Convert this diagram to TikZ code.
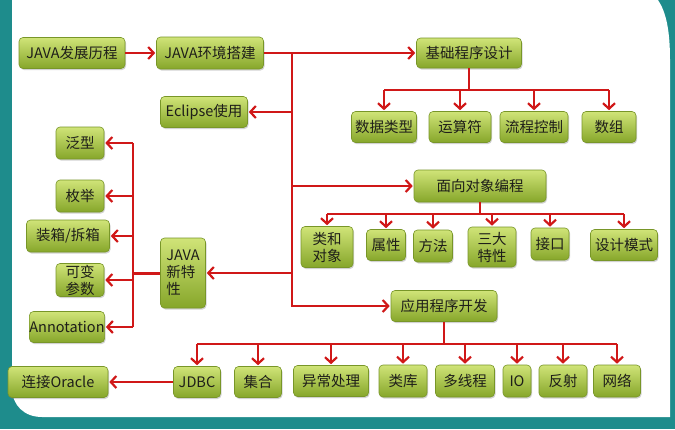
\documentclass[tikz,border=0pt]{standalone}
\usepackage{fontspec}
\setmainfont{Noto Sans CJK SC}
\usetikzlibrary{arrows.meta,shadows}

\definecolor{rahmen}{RGB}{30,140,140}
\definecolor{linienrot}{RGB}{208,24,24}
\definecolor{boxhell}{RGB}{208,228,120}
\definecolor{boxdunkel}{RGB}{134,166,42}
\definecolor{boxrand}{RGB}{120,150,40}
\definecolor{schrift}{RGB}{30,30,25}

\begin{document}
\begin{tikzpicture}[x=1pt,y=-1pt,
	>={Straight Barb[length=5.5pt,width=12pt]},
	kasten/.style={rounded corners=4pt,draw=boxrand,line width=0.6pt,
		top color=boxhell,bottom color=boxdunkel,
		drop shadow={opacity=0.35,shadow xshift=1pt,shadow yshift=-1.5pt},
		inner sep=0pt,minimum height=31pt,text=schrift,
		font=\fontsize{14.5}{17}\selectfont,align=center},
	linie/.style={draw=linienrot,line width=2.2pt,line join=miter},
	pfeil/.style={linie,->,shorten >=1pt}]

\def\stammx{292}
\def\linksx{133}

\useasboundingbox (0,0) rectangle (675,429);

\fill[rahmen] (0,0) rectangle (675,429);
\fill[white] (12,0) -- (658,0) .. controls (666,12) and (670,30) .. (670,60)
	-- (670,417) -- (42,417) .. controls (24,417) and (12,405) .. (12,388) -- cycle;

\node (history) at (72,53) [kasten,minimum width=106pt] {JAVA发展历程};
\node (env) at (210,53) [kasten,minimum width=107pt,minimum height=32pt] {JAVA环境搭建};
\node (eclipse) at (204,112) [kasten,minimum width=87pt] {Eclipse使用};

\node (generic) at (80,143) [kasten,minimum width=48pt,minimum height=32pt] {泛型};
\node (enum) at (80,196) [kasten,minimum width=48pt,minimum height=32pt] {枚举};
\node (boxing) at (68,236) [kasten,minimum width=83pt,minimum height=32pt] {装箱/拆箱};
\node (varargs) at (80,280) [kasten,minimum width=48pt,minimum height=33pt] {可变\\参数};
\node (annot) at (67,327) [kasten,minimum width=74pt] {Annotation};
\node (newfeat) at (183,273) [kasten,minimum width=45pt,minimum height=70pt,align=left] {JAVA\\新特\\性};

\node (base) at (469,53) [kasten,minimum width=105pt,minimum height=30pt] {基础程序设计};
\node (types) at (384,127) [kasten,minimum width=65pt] {数据类型};
\node (ops) at (460,127) [kasten,minimum width=62pt] {运算符};
\node (flow) at (534,127) [kasten,minimum width=68pt] {流程控制};
\node (array) at (609,127) [kasten,minimum width=54pt] {数组};

\node (oop) at (480,186) [kasten,minimum width=132pt,minimum height=32pt] {面向对象编程};
\node (cls) at (327,247) [kasten,minimum width=52pt,minimum height=41pt] {类和\\对象};
\node (attr) at (386,245) [kasten,minimum width=39pt] {属性};
\node (meth) at (433,246) [kasten,minimum width=39pt,minimum height=32pt] {方法};
\node (three) at (492,247) [kasten,minimum width=48pt,minimum height=40pt] {三大\\特性};
\node (iface) at (550,244) [kasten,minimum width=38pt,minimum height=32pt] {接口};
\node (pattern) at (624,245) [kasten,minimum width=67pt] {设计模式};

\node (app) at (444,306) [kasten,minimum width=106pt] {应用程序开发};
\node (oracle) at (58,382) [kasten,minimum width=100pt] {连接Oracle};
\node (jdbc) at (197,382) [kasten,minimum width=47pt] {JDBC};
\node (coll) at (258,382) [kasten,minimum width=47pt] {集合};
\node (exc) at (331,381) [kasten,minimum width=75pt] {异常处理};
\node (lib) at (403,381) [kasten,minimum width=48pt,minimum height=32pt] {类库};
\node (thread) at (465,381) [kasten,minimum width=59pt,minimum height=32pt] {多线程};
\node (io) at (517,381) [kasten,minimum width=28pt,minimum height=32pt] {IO};
\node (refl) at (563,381) [kasten,minimum width=48pt,minimum height=32pt] {反射};
\node (net) at (617,381) [kasten,minimum width=47pt,minimum height=32pt] {网络};

\coordinate (stamm) at (\stammx,53);
\coordinate (links) at (\linksx,273);
\coordinate (basisquer) at (0,90);
\coordinate (oopquer) at (0,214);
\coordinate (appquer) at (0,344);

\draw[pfeil] (history) -- (env);
\draw[pfeil] (env) -- (base);
\draw[pfeil] (stamm) |- (app.west);
\draw[pfeil] (eclipse.east -| stamm) -- (eclipse.east);
\draw[pfeil] (oop.west -| stamm) -- (oop.west);
\draw[pfeil] (newfeat.east -| stamm) -- (newfeat.east);

\draw[linie,line width=3pt] (newfeat.west) -- (links);
\draw[linie] (generic.east -| links) -- (annot.east -| links);
\foreach \n in {generic,enum,boxing,varargs,annot}
	\draw[pfeil] (\n.east -| links) -- (\n.east);
\draw[pfeil] (jdbc) -- (oracle);

\draw[linie] (base.south) -- (base.south |- basisquer);
\draw[linie] (types.north |- basisquer) -- (array.north |- basisquer);
\foreach \n in {types,ops,flow,array}
	\draw[pfeil] (\n.north |- basisquer) -- (\n.north);

\draw[linie] (oop.south) -- (oop.south |- oopquer);
\draw[linie] (cls.north |- oopquer) -- (pattern.north |- oopquer);
\foreach \n in {cls,attr,meth,three,iface,pattern}
	\draw[pfeil] (\n.north |- oopquer) -- (\n.north);

\draw[linie] (app.south) -- (app.south |- appquer);
\draw[linie] (jdbc.north |- appquer) -- (net.north |- appquer);
\foreach \n in {jdbc,coll,exc,lib,thread,io,refl,net}
	\draw[pfeil] (\n.north |- appquer) -- (\n.north);

\end{tikzpicture}
\end{document}
